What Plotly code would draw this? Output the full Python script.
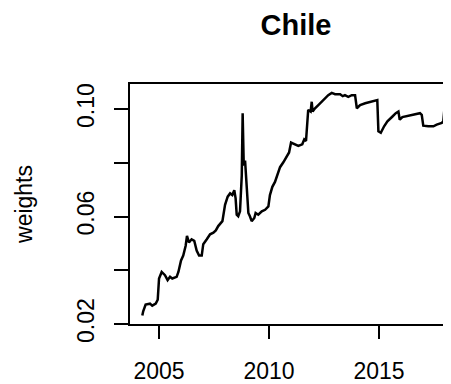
import plotly.graph_objects as go

years = [2004.24, 2004.28, 2004.39, 2004.59, 2004.69, 2004.85, 2004.94, 2005.00, 2005.12, 2005.27,
         2005.39, 2005.50, 2005.60, 2005.80, 2005.88, 2006.00, 2006.10, 2006.21, 2006.27, 2006.36,
         2006.48, 2006.60, 2006.71, 2006.82, 2006.94, 2007.01, 2007.17, 2007.32, 2007.47, 2007.58,
         2007.69, 2007.88, 2008.00, 2008.12, 2008.23, 2008.33, 2008.42, 2008.48, 2008.53, 2008.60,
         2008.68, 2008.76, 2008.80, 2008.85, 2008.91, 2008.98, 2009.06, 2009.13, 2009.21, 2009.33,
         2009.39, 2009.51, 2009.67, 2009.82, 2009.97, 2010.04, 2010.15, 2010.27, 2010.39, 2010.50,
         2010.65, 2010.80, 2010.91, 2011.00, 2011.15, 2011.33, 2011.51, 2011.60, 2011.68, 2011.74,
         2011.78, 2011.89, 2011.94, 2011.98, 2012.09, 2012.24, 2012.39, 2012.54, 2012.69, 2012.85,
         2013.00, 2013.23, 2013.35, 2013.45, 2013.60, 2013.76, 2013.91, 2013.99, 2014.14, 2014.37,
         2014.59, 2014.92, 2014.97, 2015.08, 2015.23, 2015.38, 2015.61, 2015.76, 2015.88, 2015.94,
         2016.06, 2016.29, 2016.52, 2016.86, 2016.94, 2017.01, 2017.24, 2017.47, 2017.62, 2017.85,
         2017.92, 2018.00, 2018.15, 2018.24]

weights = [0.02318, 0.02475, 0.02720, 0.02756, 0.02683, 0.02756, 0.02903, 0.03692, 0.03937, 0.03816,
           0.03633, 0.03754, 0.03692, 0.03754, 0.03937, 0.04364, 0.04547, 0.04912, 0.05278, 0.05033,
           0.05153, 0.05095, 0.04729, 0.04547, 0.04547, 0.04971, 0.05153, 0.05336, 0.05398, 0.05482,
           0.05643, 0.05826, 0.06432, 0.06739, 0.06860, 0.06798, 0.06981, 0.06677, 0.06067, 0.06008,
           0.06191, 0.07529, 0.09845, 0.07894, 0.08077, 0.07287, 0.06129, 0.06008, 0.05826, 0.05946,
           0.06129, 0.06067, 0.06191, 0.06250, 0.06374, 0.06798, 0.07105, 0.07287, 0.07591, 0.07835,
           0.08018, 0.08259, 0.08383, 0.08749, 0.08687, 0.08625, 0.08687, 0.08870, 0.08808, 0.09480,
           0.09966, 0.09904, 0.10270, 0.09904, 0.10028, 0.10148, 0.10270, 0.10393, 0.10514, 0.10598,
           0.10550, 0.10550, 0.10477, 0.10514, 0.10452, 0.10514, 0.10514, 0.10028, 0.10148, 0.10211,
           0.10270, 0.10331, 0.09173, 0.09114, 0.09356, 0.09538, 0.09721, 0.09845, 0.09904, 0.09600,
           0.09699, 0.09746, 0.09783, 0.09845, 0.09783, 0.09381, 0.09356, 0.09356, 0.09417, 0.09480,
           0.09538, 0.10270, 0.10270, 0.10211]

x_ticks = [2005, 2010, 2015]
x_labels = ["2005", "2010", "2015"]
y_ticks = [0.02, 0.04, 0.06, 0.08, 0.10]
y_labels = ["0.02", "", "0.06", "", "0.10"]

FONT = "Liberation Sans, Arial, Helvetica, sans-serif"

W, H = 443, 376
L, T, B = 122, 76, 56

fig = go.Figure()
fig.add_trace(go.Scatter(x=years, y=weights, mode="lines",
                         line=dict(color="black", width=2.5), showlegend=False,
                         hoverinfo="skip"))

fig.update_layout(
    width=W, height=H,
    margin=dict(l=L, r=0, t=T, b=B, pad=0),
    paper_bgcolor="white", plot_bgcolor="white",
    font=dict(family=FONT, size=23, color="black"),
    title=dict(text="<b>Chile</b>", x=288 / W, xref="container", xanchor="center",
               y=1 - 17 / H, yref="container", yanchor="middle",
               font=dict(family=FONT, size=29, color="black")),
    xaxis=dict(range=[2003.68, 2018.27], tickvals=x_ticks, ticktext=x_labels,
               showgrid=False, zeroline=False, showline=True, mirror=True,
               linecolor="black", linewidth=2, ticks="outside", ticklen=13,
               tickwidth=2, tickcolor="black", ticklabelstandoff=12),
    yaxis=dict(range=[0.02, 0.1093], tickvals=y_ticks, ticktext=y_labels,
               showgrid=False, zeroline=False, showline=True, mirror=False,
               linecolor="black", linewidth=2, ticks="outside", ticklen=14,
               tickwidth=2, tickcolor="black", tickangle=-90, ticklabelstandoff=11),
    annotations=[dict(text="weights", textangle=-90, xref="paper", yref="paper",
                      x=(16 - L) / (W - L), y=(320 - 199) / (H - T - B),
                      xanchor="center", yanchor="middle", showarrow=False,
                      font=dict(family=FONT, size=23, color="black"))],
)

fig.write_html("out.html")
